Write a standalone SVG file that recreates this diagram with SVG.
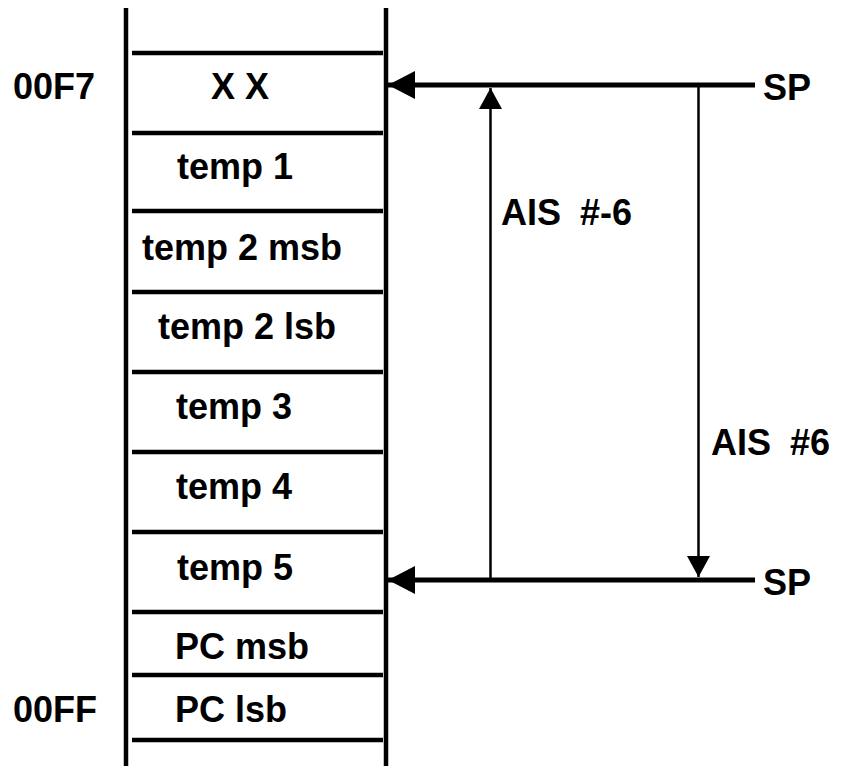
<svg xmlns="http://www.w3.org/2000/svg" width="841" height="766" viewBox="0 0 841 766">
<style>
text{font-family:"Liberation Sans",Arial,sans-serif;font-weight:bold;font-size:36px;fill:#000}
.wall{stroke:#000;stroke-width:4.5;fill:none}
.div{stroke:#000;stroke-width:4.5;fill:none}
.sp{stroke:#000;stroke-width:5;fill:none}
.ais{stroke:#000;stroke-width:2.5;fill:none}
</style>
<defs>
<marker id="bigHead" markerUnits="userSpaceOnUse" markerWidth="28" markerHeight="28" refX="27" refY="14" orient="auto" viewBox="0 0 28 28">
<path d="M0,0 L27,14 L0,28 Z" fill="#000"/>
</marker>
<marker id="smallHead" markerUnits="userSpaceOnUse" markerWidth="21" markerHeight="23" refX="21" refY="11.5" orient="auto" viewBox="0 0 21 23">
<path d="M0,0 L21,11.5 L0,23 Z" fill="#000"/>
</marker>
</defs>
<g id="stack">
<line class="wall" x1="126" y1="8" x2="126" y2="766"/>
<line class="wall" x1="386" y1="8" x2="386" y2="766"/>
<line class="div" x1="132" y1="53" x2="383" y2="53"/>
<line class="div" x1="132" y1="133" x2="383" y2="133"/>
<line class="div" x1="132" y1="211" x2="383" y2="211"/>
<line class="div" x1="132" y1="292" x2="383" y2="292"/>
<line class="div" x1="132" y1="372" x2="383" y2="372"/>
<line class="div" x1="132" y1="452" x2="383" y2="452"/>
<line class="div" x1="132" y1="532" x2="383" y2="532"/>
<line class="div" x1="132" y1="612" x2="383" y2="612"/>
<line class="div" x1="132" y1="675" x2="383" y2="675"/>
<line class="div" x1="132" y1="740" x2="383" y2="740"/>
</g>
<g id="cell-xx"><text x="211" y="99">X X</text></g>
<g id="cell-temp1"><text x="177" y="179">temp 1</text></g>
<g id="cell-temp2msb"><text x="142" y="260">temp 2 msb</text></g>
<g id="cell-temp2lsb"><text x="158" y="339">temp 2 lsb</text></g>
<g id="cell-temp3"><text x="176" y="419">temp 3</text></g>
<g id="cell-temp4"><text x="176" y="499">temp 4</text></g>
<g id="cell-temp5"><text x="177" y="580">temp 5</text></g>
<g id="cell-pcmsb"><text x="175" y="659">PC msb</text></g>
<g id="cell-pclsb"><text x="175" y="722">PC lsb</text></g>
<g id="addr-00F7"><text x="13" y="99">00F7</text></g>
<g id="addr-00FF"><text x="13" y="722">00FF</text></g>
<g id="sp-top"><text x="763" y="100">SP</text></g>
<g id="sp-bottom"><text x="763" y="595">SP</text></g>
<g id="label-ais-neg"><text x="501" y="225">AIS <tspan dx="9">#-6</tspan></text></g>
<g id="label-ais-pos"><text x="711" y="455">AIS <tspan dx="9">#6</tspan></text></g>
<g id="connectors">
<line class="sp" x1="755" y1="85" x2="388" y2="85" marker-end="url(#bigHead)"/>
<line class="sp" x1="755" y1="580" x2="388" y2="580" marker-end="url(#bigHead)"/>
<line class="ais" x1="490.5" y1="580" x2="490.5" y2="88" marker-end="url(#smallHead)"/>
<line class="ais" x1="698.5" y1="85" x2="698.5" y2="577" marker-end="url(#smallHead)"/>
</g>
</svg>
